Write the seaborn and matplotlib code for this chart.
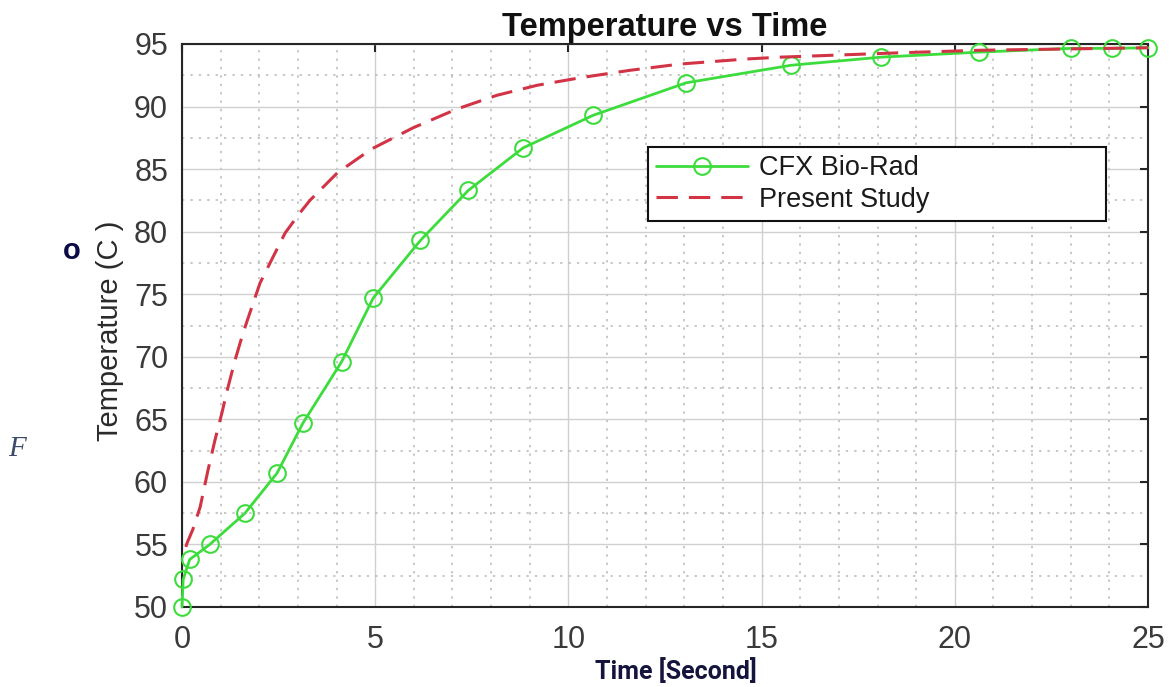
import numpy as np
import pandas as pd
import matplotlib
matplotlib.use("Agg")
import matplotlib.pyplot as plt
from matplotlib.ticker import MultipleLocator
import seaborn as sns

# ---- data ----
cfx_time = [0.0, 0.03, 0.2, 0.72, 1.63, 2.46, 3.13, 4.13, 4.95, 6.17, 7.41,
            8.83, 10.64, 13.05, 15.76, 18.1, 20.62, 23.0, 24.07, 25.0]
cfx_temp = [50.0, 52.2, 53.8, 55.0, 57.5, 60.7, 64.7, 69.6, 74.7, 79.3, 83.3,
            86.7, 89.3, 91.9, 93.3, 93.95, 94.35, 94.65, 94.65, 94.7]

ps_time = [0.10, 0.13, 0.28, 0.47, 0.67, 0.85, 1.04, 1.16, 1.37, 1.58, 1.81,
           2.02, 2.36, 2.67, 3.05, 3.31, 4.02, 4.90, 5.98, 7.11, 8.15, 9.19,
           10.3, 11.6, 12.9, 14.6, 15.5, 18.6, 20.65, 25.0]
ps_temp = [54.8, 55.1, 56.2, 58.0, 60.9, 63.3, 65.6, 67.2, 69.7, 71.9, 74.0,
           75.9, 78.0, 79.9, 81.5, 82.5, 84.7, 86.6, 88.3, 89.8, 90.9, 91.7,
           92.3, 92.9, 93.4, 93.8, 93.95, 94.3, 94.5, 94.7]

x_ticks = [0, 5, 10, 15, 20, 25]
y_ticks = [50, 55, 60, 65, 70, 75, 80, 85, 90, 95]

series_names = ["CFX Bio-Rad", "Present Study"]
title_text = "Temperature vs Time"
xlabel_text = "Time [Second]"
ylabel_text = "Temperature (C )"

cfx_df = pd.DataFrame({"time": cfx_time, "temp": cfx_temp})
ps_df = pd.DataFrame({"time": ps_time, "temp": ps_temp})

sns.set_theme(style="white")
plt.rcParams["font.family"] = ["Liberation Sans", "DejaVu Sans"]

GREEN = "#3ddc3d"
RED = "#d23446"

fig = plt.figure(figsize=(11.72, 6.87), dpi=100)
ax = fig.add_axes([182 / 1172, (687 - 607) / 687, 966 / 1172, 563 / 687])
ax.set_facecolor("white")

sns.lineplot(data=cfx_df, x="time", y="temp", ax=ax, color=GREEN, lw=2.0,
             marker="o", markersize=12, markerfacecolor="none",
             markeredgecolor=GREEN, markeredgewidth=1.5,
             label=series_names[0], estimator=None, sort=False,
             clip_on=False, zorder=3)
sns.lineplot(data=ps_df, x="time", y="temp", ax=ax, color=RED, lw=2.2,
             dashes=(7.0, 3.6), label=series_names[1],
             estimator=None, sort=False, clip_on=False, zorder=4)

ax.set_xlim(0, 25)
ax.set_ylim(50, 95)
ax.set_xticks(x_ticks)
ax.set_yticks(y_ticks)
ax.xaxis.set_minor_locator(MultipleLocator(1))
ax.yaxis.set_minor_locator(MultipleLocator(2.5))

ax.grid(which="major", color="#d0d0d0", lw=1.0, ls="-")
ax.grid(which="minor", color="#b8b8b8", lw=1.1, ls=(0, (1.5, 4)))
ax.set_axisbelow(True)

ax.tick_params(which="major", direction="in", length=6, width=1.5,
               top=True, right=True, colors="#262626",
               labelcolor="#3a3a3a", labelsize=22)
ax.tick_params(axis="x", which="major", pad=13)
ax.tick_params(axis="y", which="major", pad=10)
ax.tick_params(which="minor", length=0)
for s in ax.spines.values():
    s.set_color("#262626")
    s.set_linewidth(1.5)
    s.set_visible(True)

ax.set_title(title_text, fontsize=23.5, fontweight="bold", color="#111111", pad=6)
ax.set_xlabel(xlabel_text, fontsize=18, fontweight="bold", color="#14143c",
              family=["Roboto", "DejaVu Sans"])
ax.xaxis.set_label_coords(0.511, -0.090)
ax.set_ylabel(ylabel_text, fontsize=21, color="#2a2a2a")
ax.yaxis.set_label_coords(-0.060, 0.49)

# degree mark and cropped caption letter as in the reference
fig.text(72 / 1172, 1 - 251 / 687, "o", fontsize=21, fontweight="bold",
         color="#0b0b45", ha="center", va="center")
fig.text(8 / 1172, 1 - 449 / 687, "F", fontsize=21, style="italic",
         color="#3b4a6b", ha="left", va="center",
         family=["Liberation Serif", "DejaVu Serif"])

leg = ax.legend(loc="upper left", bbox_to_anchor=(0.482, 0.684, 0.475, 0.133),
                mode="expand", fontsize=19.5, frameon=True, fancybox=False,
                framealpha=1.0, edgecolor="#111111", handlelength=3.4,
                handletextpad=0.4, borderpad=0.3, labelspacing=0.2,
                borderaxespad=0)
leg.get_frame().set_linewidth(1.5)
for t in leg.get_texts():
    t.set_color("#1a1a1a")

fig.savefig("out.png", dpi=100, facecolor="white")
